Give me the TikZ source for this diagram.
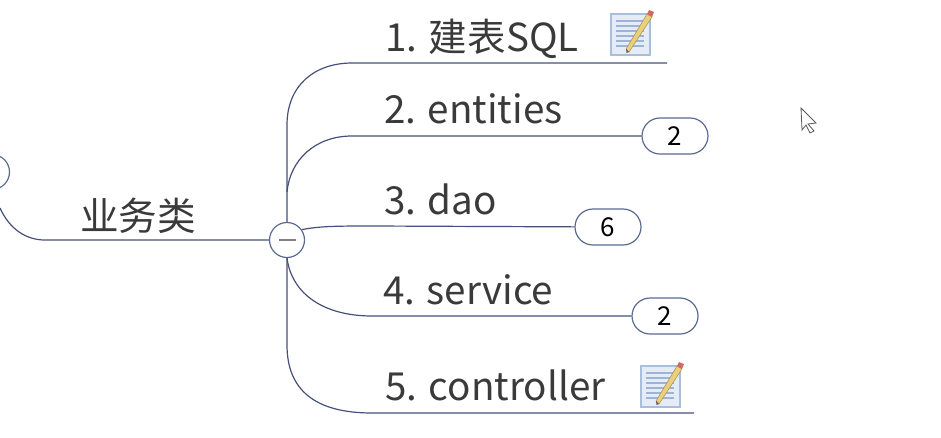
\documentclass[tikz,border=0pt]{standalone}
\usepackage{fontspec}
\usetikzlibrary{shapes.misc}
\setmainfont{Noto Sans CJK SC}
\definecolor{branchblue}{HTML}{46507A}
\definecolor{pillblue}{HTML}{5A6A90}
\definecolor{inkgrey}{HTML}{3A3A3A}
\definecolor{paperblue}{HTML}{E6ECF7}
\definecolor{edgeblue}{HTML}{A8BEDD}
\definecolor{ruleblue}{HTML}{9DB4D8}
\definecolor{pencilyellow}{HTML}{EBCF7A}
\definecolor{pencilred}{HTML}{CF6A66}
\tikzset{
  noteicon/.pic={
    \filldraw[fill=paperblue,draw=edgeblue,line width=1.2pt] (0,6) rectangle (39,47);
    \foreach \y in {13,18,...,39} \draw[ruleblue,line width=1.2pt] (5,\y) -- (33,\y);
    \filldraw[fill=pencilyellow,draw=pencilyellow!70!black,line width=0.5pt] (15,41) -- (36,6) -- (41,9) -- (18,44) -- cycle;
    \fill[pencilred] (36,6) -- (38,2) -- (43,4) -- (41,9) -- cycle;
    \fill[black!60] (15,41) -- (15.5,45) -- (18,44) -- cycle;
  }
}
\begin{document}
\begin{tikzpicture}[x=1pt,y=-1pt]
    \tikzstyle{branch}=[branchblue,line width=1.2pt]
    \tikzstyle{label}=[anchor=base west,inner sep=0pt,text=inkgrey,font=\fontsize{38.6}{38.6}\selectfont]
    \tikzstyle{pill}=[rounded rectangle,draw=pillblue,fill=white,line width=1.2pt,minimum width=66pt,minimum height=36pt,inner sep=0pt,font=\fontsize{26}{26}\selectfont]
    \useasboundingbox (0,0) rectangle (941,437);
    \clip (0,0) rectangle (941,437);
    \node (hub)[circle,draw=pillblue,line width=1.2pt,minimum size=35pt,inner sep=0pt] at (287,240) {};
    \node (prev)[circle,draw=pillblue,line width=1.2pt,minimum size=35pt,inner sep=0pt] at (-8,172) {};
    \node (pillb)[pill] at (675,136) {2};
    \node (pillc)[pill] at (608,227) {6};
    \node (pilld)[pill] at (665,316) {2};
    \node (texta)[label] at (385,51) {1. 建表SQL};
    \node (textb)[label] at (384,123) {2. entities};
    \node (textc)[label] at (384,214) {3. dao};
    \node (textd)[label] at (383,304) {4. service};
    \node (texte)[label] at (385,400) {5. controller};
    \node (textmain)[label] at (80,230) {业务类};
    \coordinate (enda) at (667,63);
    \coordinate (ende) at (694,413);
    \coordinate (leftend) at (0,208);
    % branches
    \draw[branch] (hub.north) -- (287,125) .. controls (287,85) and (315,63) .. (352,63) -- (enda);
    \draw[branch] (287,192) .. controls (290,160) and (315,136) .. (352,136) -- (pillb);
    \draw[branch] (hub.35) .. controls (320,226) and (340,226) .. (372,226) -- (pillc);
    \draw[branch] (hub.south) .. controls (292,295) and (325,316) .. (372,316) -- (pilld);
    \draw[branch] (hub.south) -- (287,345) .. controls (287,390) and (315,413) .. (372,413) -- (ende);
    \draw[branch] (leftend) .. controls (9,228) and (25,240) .. (45,240) -- (hub);
    \draw[black!50,line width=1.5pt] (279,240) -- (296,240);
    \pic at (611,8) {noteicon};
    \pic at (641,360) {noteicon};
    % cursor
    \draw[black!65,fill=white,line width=0.8pt] (801,108) -- (816,123) -- (808,124) -- (814,131) -- (810,133) -- (806,125) -- (802,130) -- cycle;
\end{tikzpicture}
\end{document}
